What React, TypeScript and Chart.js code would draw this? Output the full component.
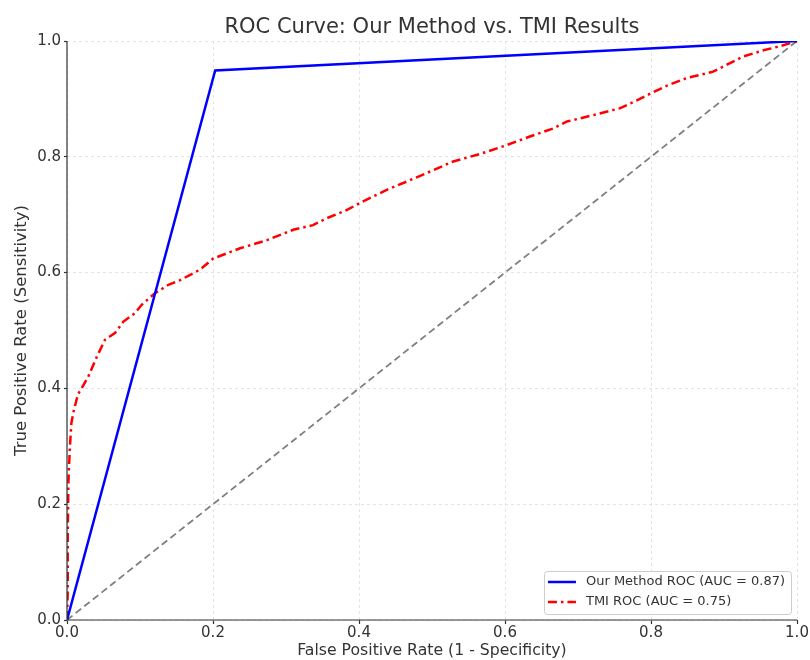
import React, { useEffect, useRef } from "react";
import { Chart, registerables } from "chart.js";

Chart.register(...registerables);

const TITLE = "ROC Curve: Our Method vs. TMI Results";
const X_TITLE = "False Positive Rate (1 - Specificity)";
const Y_TITLE = "True Positive Rate (Sensitivity)";

const OURS_LABEL = "Our Method ROC (AUC = 0.87)";
const OURS_FPR = [0, 0.203, 1.0];
const OURS_TPR = [0, 0.949, 1.0];

const TMI_LABEL = "TMI ROC (AUC = 0.75)";
const TMI_FPR = [
  0, 0.001, 0.001, 0.002, 0.004, 0.006, 0.009, 0.015, 0.02, 0.029, 0.041, 0.052, 0.066, 0.077,
  0.093, 0.102, 0.12, 0.139, 0.155, 0.182, 0.2, 0.237, 0.274, 0.31, 0.337, 0.356, 0.383, 0.401,
  0.438, 0.465, 0.502, 0.529, 0.566, 0.602, 0.634, 0.666, 0.685, 0.721, 0.758, 0.78, 0.799, 0.822,
  0.849, 0.885, 0.904, 0.926, 0.954, 0.977, 1.0,
];
const TMI_TPR = [
  0, 0.05, 0.15, 0.24, 0.3, 0.34, 0.36, 0.39, 0.4, 0.42, 0.455, 0.484, 0.496, 0.515,
  0.53, 0.544, 0.564, 0.579, 0.587, 0.605, 0.624, 0.642, 0.656, 0.674, 0.682, 0.694, 0.708, 0.72,
  0.743, 0.757, 0.777, 0.792, 0.805, 0.82, 0.835, 0.849, 0.861, 0.872, 0.884, 0.897, 0.909, 0.923,
  0.936, 0.947, 0.959, 0.973, 0.984, 0.991, 1.0,
];

const DIAG_X = [0, 1];
const DIAG_Y = [0, 1];

const TICKS = [0, 0.2, 0.4, 0.6, 0.8, 1.0];

const FONT = "'DejaVu Sans', sans-serif";
const TEXT = "#333333";

const toPoints = (xs: number[], ys: number[]) => xs.map((x, i) => ({ x, y: ys[i] }));

const titlePlugin = {
  id: "axesTitle",
  afterDraw(chart: any) {
    const { ctx, chartArea } = chart;
    ctx.save();
    ctx.font = `21px ${FONT}`;
    ctx.fillStyle = TEXT;
    ctx.textAlign = "center";
    ctx.textBaseline = "alphabetic";
    ctx.fillText(TITLE, (chartArea.left + chartArea.right) / 2, 33);
    ctx.restore();
  },
};

const legendPlugin = {
  id: "innerLegend",
  afterDatasetsDraw(chart: any) {
    const { ctx, chartArea } = chart;
    const items = chart.data.datasets.filter((d: any) => d.label);
    ctx.save();
    ctx.font = `13px ${FONT}`;
    const textW = Math.max(...items.map((d: any) => ctx.measureText(d.label).width));
    const rowH = 20;
    const w = 42 + textW + 6;
    const h = 43;
    const x0 = chartArea.right - 6 - w;
    const y0 = chartArea.bottom - 6 - h;
    ctx.fillStyle = "rgba(255,255,255,0.85)";
    ctx.strokeStyle = "#cccccc";
    ctx.lineWidth = 1;
    ctx.beginPath();
    ctx.roundRect(x0 + 0.5, y0 + 0.5, w, h, 3);
    ctx.fill();
    ctx.stroke();
    items.forEach((d: any, i: number) => {
      const cy = y0 + 11 + i * rowH;
      ctx.strokeStyle = d.borderColor;
      ctx.lineWidth = d.borderWidth;
      ctx.setLineDash(d.borderDash || []);
      ctx.beginPath();
      ctx.moveTo(x0 + 4, cy);
      ctx.lineTo(x0 + 32, cy);
      ctx.stroke();
      ctx.setLineDash([]);
      ctx.fillStyle = TEXT;
      ctx.textBaseline = "middle";
      ctx.textAlign = "left";
      ctx.fillText(d.label, x0 + 42, cy);
    });
    ctx.restore();
  },
};

const spinePlugin = {
  id: "spines",
  afterDatasetsDraw(chart: any) {
    const { ctx, chartArea } = chart;
    ctx.save();
    ctx.strokeStyle = "#333333";
    ctx.lineWidth = 1.2;
    ctx.setLineDash([]);
    ctx.beginPath();
    ctx.moveTo(chartArea.left, chartArea.top);
    ctx.lineTo(chartArea.left, chartArea.bottom);
    ctx.lineTo(chartArea.right, chartArea.bottom);
    ctx.stroke();
    ctx.restore();
  },
};

export default function App() {
  const ref = useRef<HTMLCanvasElement | null>(null);

  useEffect(() => {
    if (!ref.current) return;
    const chart = new Chart(ref.current, {
      type: "line",
      data: {
        datasets: [
          {
            label: OURS_LABEL,
            data: toPoints(OURS_FPR, OURS_TPR),
            borderColor: "#0000ff",
            borderWidth: 2.5,
            pointRadius: 0,
            tension: 0,
            fill: false,
          },
          {
            label: TMI_LABEL,
            data: toPoints(TMI_FPR, TMI_TPR),
            borderColor: "#ff0000",
            borderWidth: 2.5,
            borderDash: [9, 4, 2.5, 4],
            pointRadius: 0,
            tension: 0,
            fill: false,
          },
          {
            label: "",
            data: toPoints(DIAG_X, DIAG_Y),
            borderColor: "#808080",
            borderWidth: 1.8,
            borderDash: [7, 4],
            pointRadius: 0,
            tension: 0,
            fill: false,
          },
        ],
      },
      options: {
        animation: false,
        responsive: false,
        maintainAspectRatio: false,
        layout: { padding: { left: 0, right: 13, top: 41, bottom: 0 } },
        plugins: {
          legend: { display: false },
          tooltip: { enabled: false },
          title: { display: false },
        },
        scales: {
          x: {
            type: "linear",
            min: 0,
            max: 1,
            afterBuildTicks: (s: any) => {
              s.ticks = TICKS.map((v) => ({ value: v }));
            },
            afterFit: (s: any) => {
              s.height = 40;
            },
            ticks: {
              color: TEXT,
              font: { family: FONT, size: 15 },
              padding: 0,
              maxRotation: 0,
              callback: (v: any) => Number(v).toFixed(1),
            },
            grid: {
              color: "#dddddd",
              lineWidth: 0.8,
              tickColor: "#333333",
              tickLength: 4,
              tickWidth: 1.2,
            },
            border: { display: false, dash: [3, 3] },
            title: {
              display: true,
              text: X_TITLE,
              color: TEXT,
              font: { family: FONT, size: 15.7 },
              padding: { top: 0, bottom: 0 },
            },
          },
          y: {
            type: "linear",
            min: 0,
            max: 1,
            afterBuildTicks: (s: any) => {
              s.ticks = TICKS.map((v) => ({ value: v }));
            },
            afterFit: (s: any) => {
              s.width = 67;
            },
            ticks: {
              color: TEXT,
              font: { family: FONT, size: 15 },
              padding: 3,
              callback: (v: any) => Number(v).toFixed(1),
            },
            grid: {
              color: "#dddddd",
              lineWidth: 0.8,
              tickColor: "#333333",
              tickLength: 3,
              tickWidth: 1.2,
            },
            border: { display: false, dash: [3, 3] },
            title: {
              display: true,
              text: Y_TITLE,
              color: TEXT,
              font: { family: FONT, size: 16.5 },
              padding: { top: 12, bottom: 2 },
            },
          },
        },
      },
      plugins: [spinePlugin, legendPlugin, titlePlugin],
    } as any);
    return () => chart.destroy();
  }, []);

  return (
    <div style={{ position: "fixed", left: 0, top: 0, width: 810, height: 660, background: "#fff" }}>
      <canvas ref={ref} width={810} height={660} style={{ width: 810, height: 660 }} />
    </div>
  );
}
